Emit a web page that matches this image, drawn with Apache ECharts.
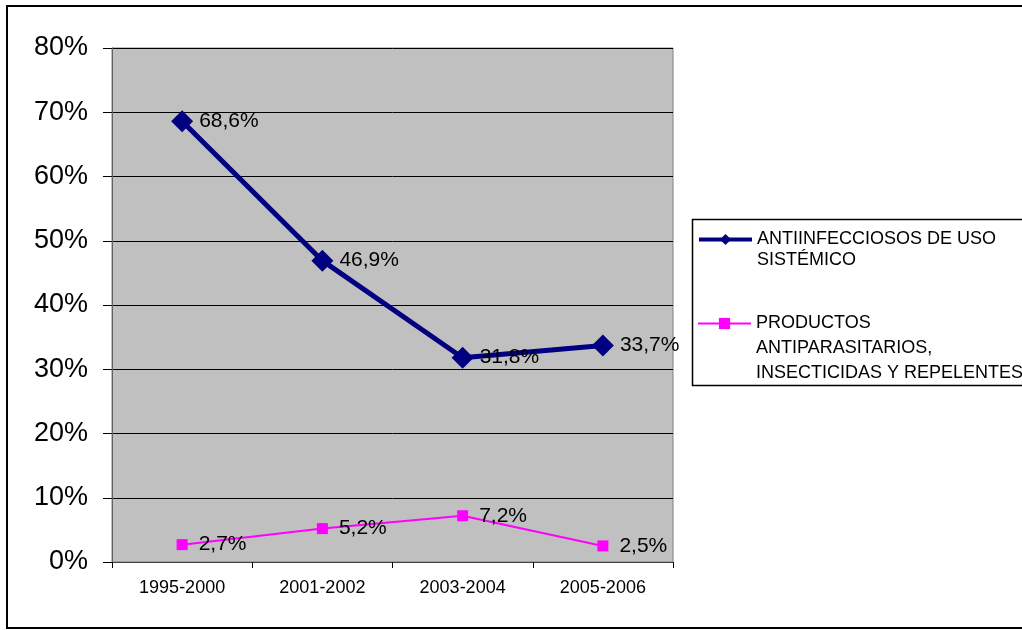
<!DOCTYPE html>
<html>
<head>
<meta charset="utf-8">
<script src="https://cdn.jsdelivr.net/npm/echarts@6/dist/echarts.min.js"></script>
<style>
  html, body { margin: 0; padding: 0; background: #fff; }
  #chart { width: 1022px; height: 630px; }
</style>
</head>
<body>
<div id="chart"></div>
<script>
// Periods on the horizontal axis
const periods = ['1995-2000', '2001-2002', '2003-2004', '2005-2006'];

// Share (%) of each therapeutic group per period
const antiinfecciosos = [68.6, 46.9, 31.8, 33.7];
const antiparasitarios = [2.7, 5.2, 7.2, 2.5];

// Series names and their wrapped legend text
const nameAnti = 'ANTIINFECCIOSOS DE USO SISTÉMICO';
const nameParas = 'PRODUCTOS ANTIPARASITARIOS, INSECTICIDAS Y REPELENTES';
const legendLines = {};
legendLines[nameAnti] = ['ANTIINFECCIOSOS DE USO', 'SISTÉMICO'];
legendLines[nameParas] = ['PRODUCTOS', 'ANTIPARASITARIOS,', 'INSECTICIDAS Y REPELENTES'];

// Value axis range (percent)
const yMin = 0, yMax = 80, yStep = 10;

const fmtPct = v => v.toFixed(1).replace('.', ',') + '%';
const FONT = '"Liberation Sans", Arial, sans-serif';

const chart = echarts.init(document.getElementById('chart'), null, { renderer: 'canvas' });

// One legend per series; leading blank lines keep the first text line level with the icon
function legendFor(name, top, lh, lineWidth) {
  return {
    data: [name],
    orient: 'vertical',
    left: 697,
    top: top,
    padding: 0,
    itemWidth: 53,
    itemHeight: 14,
    itemGap: 0,
    selectedMode: false,
    lineStyle: { width: lineWidth },
    formatter: nm => {
      const lines = legendLines[nm];
      return '\n'.repeat(lines.length - 1) + lines.join('\n');
    },
    textStyle: {
      fontFamily: FONT,
      fontSize: 18,
      color: '#000',
      lineHeight: lh
    }
  };
}

chart.setOption({
  backgroundColor: '#fff',
  animation: false,
  grid: {
    left: 112, top: 48, right: 349, bottom: 68,
    show: true,
    backgroundColor: '#C0C0C0',
    borderColor: '#808080',
    borderWidth: 1
  },
  legend: [
    legendFor(nameAnti, 208, 21, 4),
    legendFor(nameParas, 261, 25, 2)
  ],
  xAxis: {
    type: 'category',
    data: periods,
    boundaryGap: true,
    axisLine: { show: true, lineStyle: { color: '#404040', width: 1 } },
    axisTick: { show: true, length: 6, lineStyle: { color: '#000' } },
    axisLabel: { color: '#000', fontFamily: FONT, fontSize: 18, margin: 17 }
  },
  yAxis: {
    type: 'value',
    min: yMin, max: yMax, interval: yStep,
    axisLine: { show: true, lineStyle: { color: '#606060', width: 1 } },
    axisTick: { show: true, length: 9, lineStyle: { color: '#000' } },
    axisLabel: { color: '#000', fontFamily: FONT, fontSize: 27, margin: 24, formatter: '{value}%' },
    splitLine: { show: true, lineStyle: { color: '#000', width: 1 } }
  },
  series: [
    {
      name: nameAnti,
      type: 'line',
      data: antiinfecciosos,
      symbol: 'diamond',
      symbolSize: 22,
      itemStyle: { color: '#000080' },
      lineStyle: { color: '#000080', width: 5 },
      label: {
        show: true, position: 'right', distance: 6,
        color: '#000', fontFamily: FONT, fontSize: 21,
        formatter: p => fmtPct(p.value)
      },
      z: 3
    },
    {
      name: nameParas,
      type: 'line',
      data: antiparasitarios,
      symbol: 'rect',
      symbolSize: 11,
      itemStyle: { color: '#FF00FF' },
      lineStyle: { color: '#FF00FF', width: 2 },
      label: {
        show: true, position: 'right', distance: 11,
        color: '#000', fontFamily: FONT, fontSize: 21,
        formatter: p => fmtPct(p.value)
      },
      z: 2
    }
  ],
  graphic: [
    {
      type: 'rect',
      shape: { x: 7, y: 6, width: 1040, height: 622 },
      style: { fill: null, stroke: '#000', lineWidth: 2 },
      silent: true
    },
    {
      type: 'rect',
      shape: { x: 692.5, y: 219.5, width: 360, height: 166 },
      style: { fill: null, stroke: '#000', lineWidth: 1.5 },
      silent: true
    }
  ]
});
</script>
</body>
</html>
